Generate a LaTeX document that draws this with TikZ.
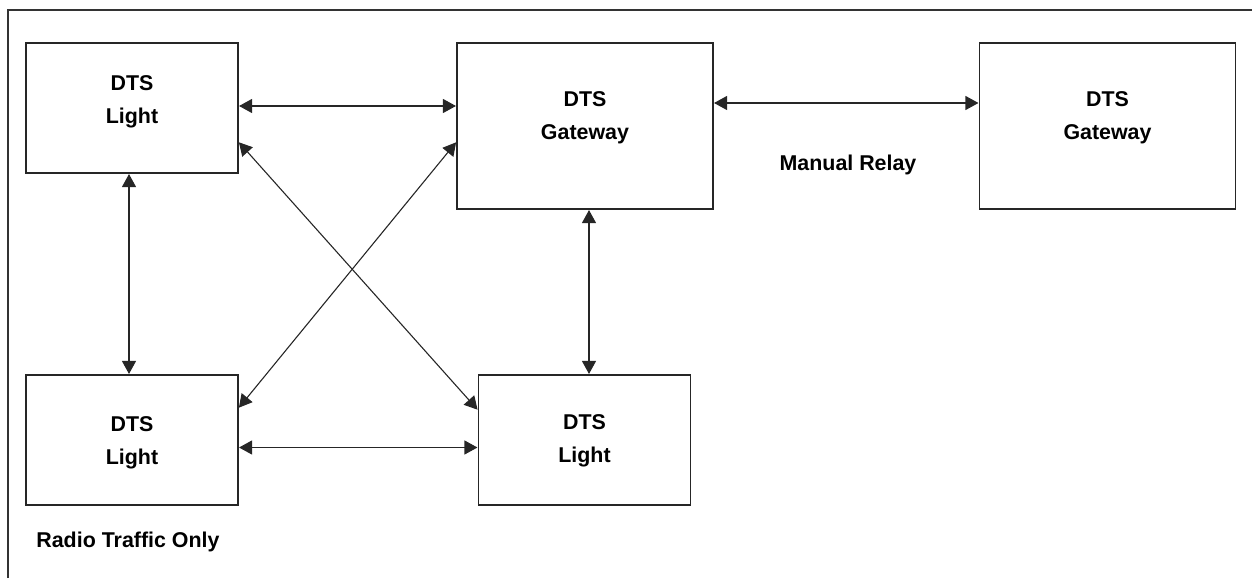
\documentclass[tikz,border=0pt]{standalone}
\usepackage{fontspec}
\setmainfont{Liberation Sans}
\usepackage{tikz}
\usetikzlibrary{arrows.meta, positioning, calc}
\tikzset{
  % --- Hop / nhan -------------------------------------------
  dtsbox/.style={draw=black!85, line width=0.65pt, fill=white,
    minimum width=106pt, minimum height=65pt, inner sep=0pt},
  gwbox/.style={dtsbox, minimum width=128pt, minimum height=83pt},
  boxtxt/.style={align=center, font=\fontsize{10.7}{16.5}\selectfont\bfseries,
    inner sep=0pt},
  note/.style={font=\fontsize{10.7}{13}\selectfont\bfseries, inner sep=0pt},
  % --- Mui ten ------------------------------------------------
  link/.style={{Triangle[length=6.5pt,width=7pt]}-{Triangle[length=6.5pt,width=7pt]},
    line width=0.55pt, black!85, shorten <=0.2pt, shorten >=0.2pt},
  frame/.style={line width=0.8pt, black!80}
}

\begin{document}
\begin{tikzpicture}[x=0.5pt, y=-0.5pt]
  \useasboundingbox (0,0) rectangle (1252,578);
  \draw[frame] (8,578) -- (8,10) -- (1252,10);

  % --- Hang tren ------------------------------------------------
  \node[dtsbox] (LA) at (132,108) {};
  \node[gwbox] (GA) at (585,126) {};
  \node[gwbox] (GB) at (1107.5,126) {};
  \node[boxtxt] (LAtxt) at ([yshift=3pt]LA.center) {DTS\\Light};
  \node[boxtxt] (GAtxt) at ([yshift=4pt]GA.center) {DTS\\Gateway};
  \node[boxtxt] (GBtxt) at ([yshift=4pt]GB.center) {DTS\\Gateway};

  % --- Hang duoi ------------------------------------------------
  \node[dtsbox] (LB) at (132,440) {};
  \node[dtsbox] (LC) at (584.5,440) {};
  \node[boxtxt] (LBtxt) at ([yshift=-1.5pt]LB.center) {DTS\\Light};
  \node[boxtxt] (LCtxt) at ([yshift=-0.5pt]LC.center) {DTS\\Light};

  % --- Nhan -----------------------------------------------------
  \node[note] (relay) at (848,165) {Manual Relay};
  \node[note, anchor=west] (radio) at (36,542) {Radio Traffic Only};

  % --- Lien ket ---------------------------------------------------
  \draw[link] ([yshift=1pt]LA.east) -- ([yshift=1pt]LA.east -| GA.west);
  \draw[link] ([yshift=11.5pt]GA.east) -- ([yshift=11.5pt]GA.east -| GB.west);
  \draw[link] ([xshift=-1.5pt]LA.south) -- ([xshift=-1.5pt]LA.south |- LB.north);
  \draw[link] ([xshift=2pt]GA.south) -- ([xshift=2pt]GA.south |- LC.north);
  \draw[link] ([yshift=-3.75pt]LB.east) -- ([yshift=-3.75pt]LB.east -| LC.west);
  \draw[link] ([yshift=-17pt]LA.east) -- ([yshift=15pt]LC.west);
  \draw[link] ([yshift=16pt]LB.east) -- ([yshift=-8pt]GA.west);

\end{tikzpicture}
\end{document}
